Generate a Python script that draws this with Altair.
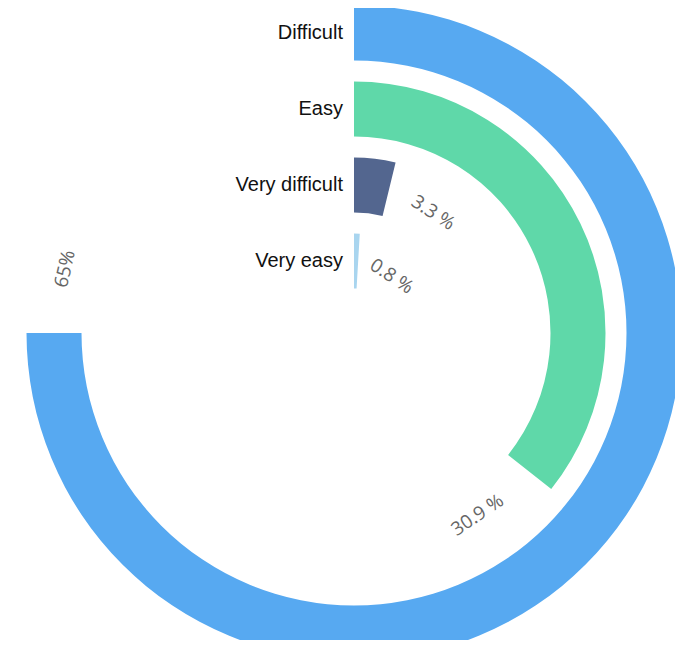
import math
import altair as alt
import pandas as pd

# ---- data ----
categories = ["Difficult", "Easy", "Very difficult", "Very easy"]
values = [65, 30.9, 3.3, 0.8]
value_labels = ["65%", "30.9 %", "3.3 %", "0.8 %"]
colors = ["#57A9F1", "#5FD8A9", "#53668F", "#A9D5EF"]

# ---- layout / style constants ----
MAX_VALUE = 65        # the largest value fills SWEEP_DEG degrees
SWEEP_DEG = 270
GAP_DEG = 9.5         # angular gap between bar end and value label
R_FIRST = 300         # mid radius of outer ring
R_STEP = 76           # distance between ring centres
BAND = 55             # ring thickness
LABEL_FS = 19
CX, CY = 346, 325

df = pd.DataFrame({"category": categories, "value": values, "label": value_labels})

r_last = R_FIRST - R_STEP * (len(categories) - 1)
theta_scale = alt.Scale(domain=[0, MAX_VALUE], range=[0, math.radians(SWEEP_DEG)])
radius_scale = alt.Scale(type="point", domain=categories, range=[R_FIRST, r_last], padding=0)
color_scale = alt.Scale(domain=categories, range=colors)

base = alt.Chart(df).encode(x=alt.value(CX), y=alt.value(CY))

arcs = base.mark_arc(radiusOffset=BAND / 2, radius2Offset=-BAND / 2).encode(
    theta=alt.Theta("value:Q", scale=theta_scale, stack=None),
    theta2=alt.value(0),
    radius=alt.Radius("category:N", scale=radius_scale),
    radius2=alt.Radius2("category:N"),
    color=alt.Color("category:N", scale=color_scale, legend=None),
)

cat_text = base.mark_text(
    align="right", baseline="middle", dx=-11,
    font="Liberation Sans", fontSize=20, color="#111111",
).encode(
    theta=alt.value(0),
    radius=alt.Radius("category:N", scale=radius_scale),
    text="category:N",
)

cat_list = "[" + ",".join(f"'{c}'" for c in categories) + "]"
vals = base.transform_calculate(
    r=f"{R_FIRST} - {R_STEP} * indexof({cat_list}, datum.category)",
    half_w=f"length(datum.label) * {LABEL_FS} * 0.275",
).transform_calculate(
    deg=f"datum.value / {MAX_VALUE} * {SWEEP_DEG} + {GAP_DEG} + datum.half_w / datum.r * 180 / PI",
).transform_calculate(
    label_pos=f"datum.deg * {MAX_VALUE} / {SWEEP_DEG}",
    rot="(datum.deg > 90 && datum.deg < 270) ? datum.deg - 180 : datum.deg",
)

labels = vals.mark_text(
    align="center", baseline="middle", radiusOffset=-4,
    font="Open Sans", fontSize=LABEL_FS, color="#666666",
).encode(
    theta=alt.Theta("label_pos:Q", scale=theta_scale, stack=None),
    radius=alt.Radius("category:N", scale=radius_scale),
    text="label:N",
    angle=alt.Angle("rot:Q", scale=None),
)

chart = alt.layer(arcs, cat_text, labels).properties(
    width=667, height=632, autosize="none", padding=0, background="white"
).configure_view(stroke=None)

chart.save("out.html", embed_options={"renderer": "svg", "actions": False})
